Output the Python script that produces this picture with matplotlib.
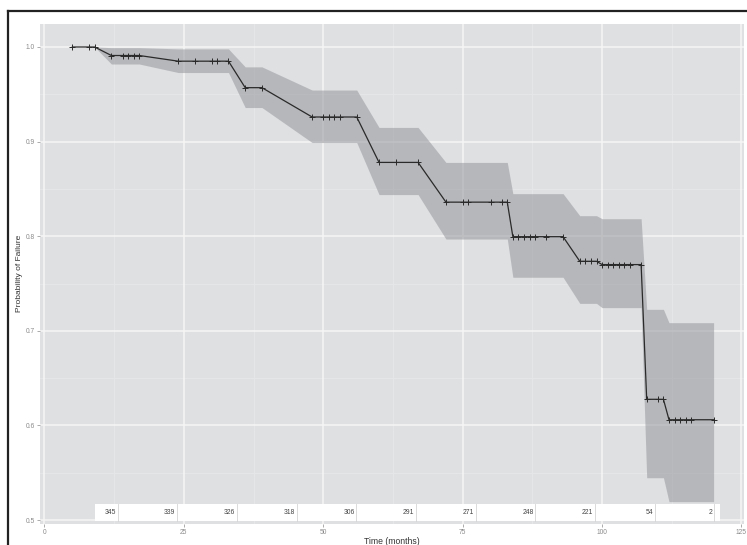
import matplotlib
matplotlib.use("Agg")
import matplotlib.pyplot as plt
from matplotlib.lines import Line2D
from matplotlib.patches import Rectangle

# Kaplan-Meier style failure curve with confidence band
times = [5, 8, 9, 12, 14, 15, 16, 17, 24, 27, 30, 31, 33, 36, 39, 48, 50, 51, 52, 53, 56,
         60, 63, 67, 72, 75, 76, 80, 82, 83, 84, 85, 86, 87, 88, 90, 93, 96, 97, 98, 99,
         100, 101, 102, 103, 104, 105, 107, 108, 110, 111, 112, 113, 114, 115, 116, 120]
surv = [1.0, 1.0, 1.0, 0.991, 0.991, 0.991, 0.991, 0.991, 0.985, 0.985, 0.985, 0.985, 0.985,
        0.957, 0.957, 0.926, 0.926, 0.926, 0.926, 0.926, 0.926,
        0.878, 0.878, 0.878, 0.836, 0.836, 0.836, 0.836, 0.836, 0.836,
        0.7995, 0.7995, 0.7995, 0.7995, 0.7995, 0.7995, 0.7995,
        0.7735, 0.7735, 0.7735, 0.7735,
        0.770, 0.770, 0.770, 0.770, 0.770, 0.770, 0.770,
        0.6276, 0.6276, 0.6276, 0.606, 0.606, 0.606, 0.606, 0.606, 0.606]
upper = [1.0, 1.0, 1.0, 0.9993, 0.9993, 0.9993, 0.9993, 0.9993, 0.998, 0.998, 0.998, 0.998, 0.998,
         0.979, 0.979, 0.9545, 0.9545, 0.9545, 0.9545, 0.9545, 0.9545,
         0.915, 0.915, 0.915, 0.878, 0.878, 0.878, 0.878, 0.878, 0.878,
         0.845, 0.845, 0.845, 0.845, 0.845, 0.845, 0.845,
         0.8217, 0.8217, 0.8217, 0.8217,
         0.8185, 0.8185, 0.8185, 0.8185, 0.8185, 0.8185, 0.8185,
         0.7227, 0.7227, 0.7227, 0.7086, 0.7086, 0.7086, 0.7086, 0.7086, 0.7086]
lower = [1.0, 1.0, 1.0, 0.982, 0.982, 0.982, 0.982, 0.982, 0.973, 0.973, 0.973, 0.973, 0.973,
         0.936, 0.936, 0.899, 0.899, 0.899, 0.899, 0.899, 0.899,
         0.844, 0.844, 0.844, 0.797, 0.797, 0.797, 0.797, 0.797, 0.797,
         0.7566, 0.7566, 0.7566, 0.7566, 0.7566, 0.7566, 0.7566,
         0.729, 0.729, 0.729, 0.729,
         0.7245, 0.7245, 0.7245, 0.7245, 0.7245, 0.7245, 0.7245,
         0.5447, 0.5447, 0.5447, 0.5194, 0.5194, 0.5194, 0.5194, 0.5194, 0.5194]

# Number at risk row
risk_times = [13.0, 23.7, 34.4, 45.1, 55.8, 66.5, 77.2, 87.9, 98.6, 109.3, 120.0]
risk_counts = ["345", "339", "326", "318", "306", "291", "271", "248", "221", "54", "2"]

x_ticks = [0, 25, 50, 75, 100, 125]
y_ticks = [0.5, 0.6, 0.7, 0.8, 0.9, 1.0]

W, H = 747, 545
fig = plt.figure(figsize=(W / 100, H / 100), dpi=100)
fig.patch.set_facecolor("white")
plt.rcParams["font.family"] = ["Liberation Sans", "DejaVu Sans"]

ax = fig.add_axes([40 / W, 1 - 524 / H, (744 - 40) / W, (524 - 24) / H])
ax.set_facecolor("#dfe0e2")
for s in ax.spines.values():
    s.set_visible(False)

ax.set_xlim(-0.8, 125.45)
ax.set_ylim(0.4958, 1.0243)

# grid
for v in [12.5, 37.5, 62.5, 87.5, 112.5]:
    ax.axvline(v, color="#e7e8ea", lw=0.6, zorder=0.5)
for v in [0.55, 0.65, 0.75, 0.85, 0.95]:
    ax.axhline(v, color="#e7e8ea", lw=0.6, zorder=0.5)
for v in x_ticks:
    ax.axvline(v, color="#f6f6f6", lw=1.1, zorder=0.6)
for v in y_ticks:
    ax.axhline(v, color="#f6f6f6", lw=1.1, zorder=0.6)

ax.fill_between(times, lower, upper, color="#9c9da1", alpha=0.6, lw=0, zorder=1)
ax.plot(times, surv, color="#2a2a2a", lw=0.9, marker="+", ms=4.3, mew=0.7, zorder=3)

# at-risk table
y0, y1 = 0.4989, 0.5169
ax.add_patch(Rectangle((9.06, y0), 121.1 - 9.06, y1 - y0, facecolor="white",
                       edgecolor="none", zorder=4))
for t, c in zip(risk_times, risk_counts):
    ax.plot([t + 0.15, t + 0.15], [y0, y1], color="#d4d4d4", lw=0.6, zorder=5)
    ax.text(t - 0.2, (y0 + y1) / 2, c, ha="right", va="center", fontsize=4.9,
            color="#444444", zorder=6)

ax.set_xticks(x_ticks)
ax.set_xticklabels([str(v) for v in x_ticks])
ax.set_yticks(y_ticks)
ax.set_yticklabels([f"{v:.1f}" for v in y_ticks])
ax.tick_params(axis="both", length=2.4, width=0.5, color="#8a8a8a",
               labelsize=4.8, labelcolor="#8a8a8a", pad=1.5)

fig.text(392 / W, 1 - 541 / H, "Time (months)", ha="center", va="center",
         fontsize=6.2, color="#333333")
fig.text(20 / W, 1 - 273 / H, "Probability of Failure", ha="center", va="center",
         rotation=90, fontsize=6.0, color="#333333")

# outer frame
fig.add_artist(Line2D([8 / W, 8 / W], [-0.01, 1 - 11 / H], color="#222222", lw=1.6))
fig.add_artist(Line2D([8 / W, 1.01], [1 - 11 / H, 1 - 11 / H], color="#222222", lw=1.6))

fig.savefig("out.png", dpi=100)
